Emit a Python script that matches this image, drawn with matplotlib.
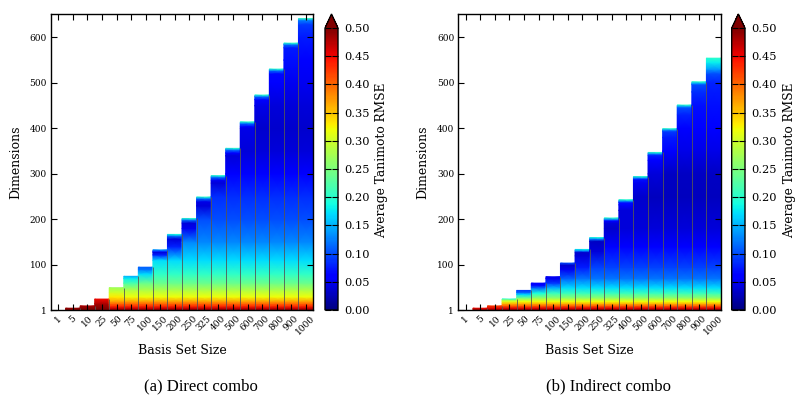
import numpy as np
import matplotlib
matplotlib.use("Agg")
import matplotlib.pyplot as plt
from matplotlib.colors import Normalize
from matplotlib.cm import ScalarMappable

# ---------------- data ----------------
basis_sizes = [1, 5, 10, 25, 50, 75, 100, 150, 200, 250, 325, 400, 500, 600, 700, 800, 900, 1000]
y_ticks = [1, 100, 200, 300, 400, 500, 600]
cbar_ticks = [0.00, 0.05, 0.10, 0.15, 0.20, 0.25, 0.30, 0.35, 0.40, 0.45, 0.50]

# (a) Direct combo: shared lower RMSE profile (dimension -> RMSE)
direct_profile_dims = [1, 5, 10, 15, 20, 30, 45, 60, 80, 110, 150, 200, 250, 300, 350, 400, 450, 500, 550, 600]
direct_profile_rmse = [0.50, 0.47, 0.43, 0.40, 0.37, 0.32, 0.28, 0.24, 0.205, 0.17, 0.13, 0.10, 0.085, 0.055,
                       0.04, 0.035, 0.04, 0.05, 0.06, 0.075]
# upper part of every column (last dimension = column height)
direct_upper_dims = [
    [1], [5], [5, 10], [5, 15, 25], [30, 40, 50], [60, 70, 75], [80, 90, 95],
    [122, 128, 130, 133], [140, 157, 164, 167], [180, 192, 199, 202], [230, 239, 246, 249],
    [280, 286, 293, 296], [340, 346, 353, 356], [400, 404, 411, 414], [450, 463, 470, 473],
    [500, 520, 527, 530], [550, 577, 584, 587], [600, 628, 638, 641],
]
direct_upper_rmse = [
    [0.50], [0.49], [0.50, 0.48], [0.50, 0.48, 0.45], [0.33, 0.30, 0.27], [0.22, 0.18, 0.15],
    [0.17, 0.12, 0.11], [0.08, 0.04, 0.08, 0.14], [0.08, 0.04, 0.12, 0.19], [0.05, 0.04, 0.12, 0.20],
    [0.04, 0.045, 0.12, 0.20], [0.04, 0.05, 0.12, 0.20], [0.04, 0.06, 0.12, 0.20], [0.045, 0.06, 0.12, 0.20],
    [0.045, 0.06, 0.12, 0.20], [0.055, 0.065, 0.12, 0.20], [0.07, 0.075, 0.12, 0.20], [0.075, 0.09, 0.13, 0.21],
]

# (b) Indirect combo
indirect_profile_dims = [1, 5, 10, 15, 20, 28, 38, 50, 70, 95, 140, 180, 250, 300, 350, 400, 450, 500]
indirect_profile_rmse = [0.50, 0.46, 0.41, 0.36, 0.32, 0.26, 0.21, 0.17, 0.12, 0.095, 0.06, 0.04, 0.028,
                         0.03, 0.045, 0.06, 0.07, 0.08]
indirect_upper_dims = [
    [1], [5], [10], [20, 23, 25], [28, 35, 40, 44], [38, 50, 56, 60], [50, 60, 70, 74],
    [70, 90, 100, 104], [95, 120, 128, 131, 134], [130, 152, 157, 160], [180, 192, 197, 200, 203],
    [220, 232, 237, 240, 243], [250, 280, 288, 291, 294], [300, 330, 341, 344, 347],
    [350, 380, 393, 396, 399], [400, 430, 445, 448, 451], [450, 480, 496, 499, 502],
    [500, 520, 530, 545, 554],
]
indirect_upper_rmse = [
    [0.50], [0.45], [0.42], [0.31, 0.28, 0.20], [0.24, 0.17, 0.11, 0.09], [0.19, 0.11, 0.06, 0.06],
    [0.15, 0.09, 0.05, 0.05], [0.11, 0.05, 0.035, 0.10], [0.075, 0.04, 0.035, 0.12, 0.18],
    [0.04, 0.03, 0.12, 0.19], [0.035, 0.04, 0.06, 0.12, 0.20], [0.04, 0.055, 0.07, 0.12, 0.20],
    [0.035, 0.05, 0.07, 0.12, 0.20], [0.04, 0.06, 0.08, 0.12, 0.20], [0.055, 0.075, 0.09, 0.12, 0.20],
    [0.06, 0.08, 0.10, 0.13, 0.20], [0.07, 0.085, 0.10, 0.14, 0.20], [0.08, 0.10, 0.14, 0.18, 0.20],
]

# ---------------- figure ----------------
plt.rcParams['font.family'] = ['DejaVu Serif']
W, H = 796, 397
fig = plt.figure(figsize=(W / 100, H / 100), dpi=100)
cmap = plt.get_cmap('jet')
norm = Normalize(vmin=0.0, vmax=0.5)


def px_axes(x0, x1, y0, y1):
    return fig.add_axes([x0 / W, 1 - y1 / H, (x1 - x0) / W, (y1 - y0) / H])


def draw_panel(ax, cax, pdims, prmse, udims, urmse):
    n = len(basis_sizes)
    heights = []
    for i in range(n):
        ud, ur = udims[i], urmse[i]
        ys = [d for d in pdims if d < ud[0]] + list(ud)
        vs = [v for d, v in zip(pdims, prmse) if d < ud[0]] + list(ur)
        heights.append(ud[-1])
        if len(ys) < 2:
            continue
        X, Y = np.meshgrid([i - 0.5, i + 0.5], ys)
        C = np.column_stack([vs, vs])
        ax.pcolormesh(X, Y, C, shading='gouraud', cmap=cmap, norm=norm)
    for i in range(n - 1):
        h = min(heights[i], heights[i + 1])
        if h > 1:
            ax.vlines(i + 0.5, 1, h, colors='#555555', linewidth=0.6)
    ax.set_xlim(-0.5, n - 0.5)
    ax.set_ylim(1, 651)
    ax.set_xticks(range(n))
    ax.set_xticklabels([str(b) for b in basis_sizes], rotation=45, fontsize=6.5)
    ax.set_yticks(y_ticks)
    ax.set_yticklabels([str(t) for t in y_ticks], fontsize=6.5)
    ax.tick_params(direction='in', top=True, right=True, length=4, width=0.8, pad=3)
    for s in ax.spines.values():
        s.set_linewidth(1.0)
    ax.set_xlabel('Basis Set Size', fontsize=9)
    ax.set_ylabel('Dimensions', fontsize=9)
    ax.xaxis.set_label_coords(0.5, -0.115)
    ax.yaxis.set_label_coords(-0.11, 0.5)

    cb = fig.colorbar(ScalarMappable(norm=norm, cmap=cmap), cax=cax, extend='max', ticks=cbar_ticks)
    cb.ax.set_yticklabels(['%.2f' % t for t in cbar_ticks])
    cb.ax.tick_params(direction='in', left=True, right=True, labelsize=8.2, length=4, width=0.8, pad=4.5)
    cb.outline.set_linewidth(1.0)
    cb.set_label('Average Tanimoto RMSE', fontsize=8.8)
    cb.ax.yaxis.set_label_coords(3.85, 0.532)


ax1 = px_axes(51, 313, 14, 310)
cax1 = px_axes(325, 338, 14, 310)
draw_panel(ax1, cax1, direct_profile_dims, direct_profile_rmse, direct_upper_dims, direct_upper_rmse)

ax2 = px_axes(458.3, 721, 14, 310)
cax2 = px_axes(731.7, 745, 14, 310)
draw_panel(ax2, cax2, indirect_profile_dims, indirect_profile_rmse, indirect_upper_dims, indirect_upper_rmse)

fig.text(201 / W, 1 - 386 / H, '(a) Direct combo', ha='center', va='center', fontsize=12,
         family='Liberation Serif')
fig.text(608 / W, 1 - 386 / H, '(b) Indirect combo', ha='center', va='center', fontsize=12,
         family='Liberation Serif')

fig.savefig('out.png', dpi=100)
